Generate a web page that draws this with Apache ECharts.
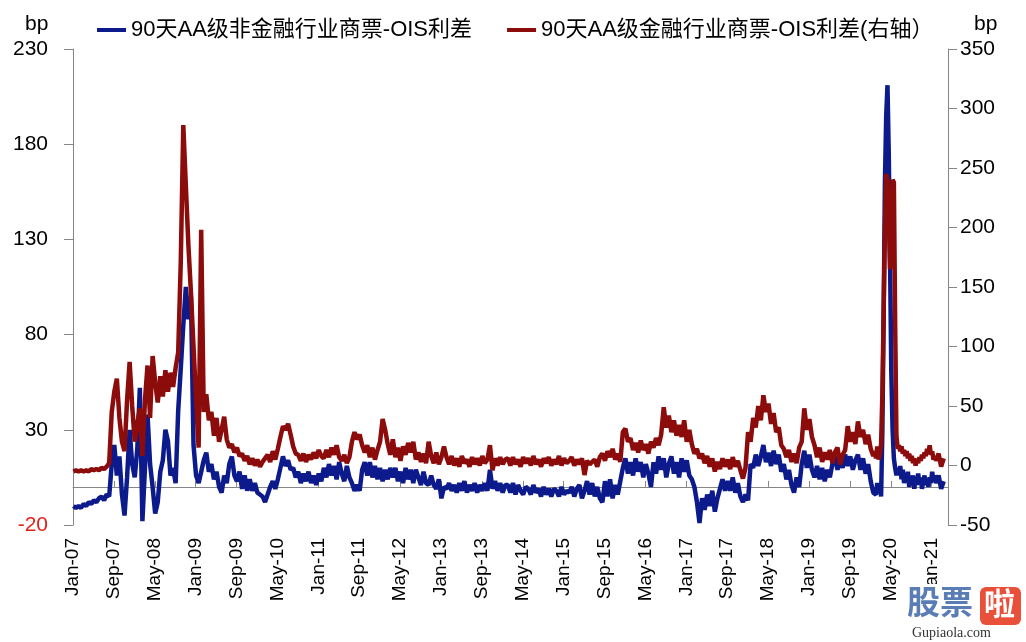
<!DOCTYPE html>
<html>
<head>
<meta charset="utf-8">
<script src="https://cdn.jsdelivr.net/npm/echarts@6/dist/echarts.min.js"></script>
<style>
html,body{margin:0;padding:0;background:#ffffff;}
#chart{width:1026px;height:642px;}
</style>
</head>
<body>
<div id="chart"></div>
<script>
// ---------------- DATA ----------------
const seriesNames = ['90天AA级非金融行业商票-OIS利差', '90天AA级金融行业商票-OIS利差(右轴）'];
const monthAbbr = ['Jan','Feb','Mar','Apr','May','Jun','Jul','Aug','Sep','Oct','Nov','Dec'];
// tick positions, months since Jan-2007 (every 8 months)
const tickMonths = [0,8,16,24,32,40,48,56,64,72,80,88,96,104,112,120,128,136,144,152,160,168];
const axisMaxMonth = 171.2;

// Half-month readings (step 0.5 month), first reading at month 0.08 (early Jan 2007).
// Left axis (bp): non-financial CP - OIS
const blueP1 = [-10,-11,-10,-11,-9,-10,-8,-9,-7,-8,-6,-5,-7,-4,-5,12,22,6,16,-4,-15,5,30,12,5,20];
const blueP2 = [52,-18,10,38,12,0,-14,-8,8,14,30,24,6,10,2,40,62,85,105,88,100,22,6,2];
const blueP3 = [8,14,18,8,12,4,8,0,-3,6,2,12,16,6,3,8,-1,6,-2,4,-2,2,-3,-4];
const blueP4 = [-5,-8,-4,0,3,-1,4,10,16,11,14,9,10,5,8,2,7,3,8,2,6,1,7,3];
const blueP5 = [10,5,12,6,11,4,13,7,3,11,5,2,-2,1,-2,9,13,6,13,5,11,4,10,3];
const blueP6 = [9,4,10,5,10,3,8,2,10,4,9,2,9,5,1,8,2,1,6,1,-1,4,-6,0];
const blueP7 = [-1,2,-2,1,-3,2,-2,3,-3,1,-2,2,-3,1,-2,2,-2,9,-1,3,-2,2,-3,1];
const blueP8 = [1,-3,2,-4,1,-2,-4,0,-1,-4,1,-3,-1,-5,0,-4,-1,-5,-1,-2,-5,0,-4,-2];
const blueP9 = [-3,0,-5,-1,1,-6,-2,3,-4,2,-5,0,-6,-8,3,-5,4,-6,1,-4,3,10,15,7];
const blueP10 = [13,6,15,8,13,5,12,7,0,13,7,16,9,15,5,12,16,7,13,5,15,8,14,6];
const blueP11 = [4,0,-8,-19,-6,-12,-4,-10,-2,-13,-6,-1,4,-2,3,-2,5,-3,2,-5,-8,-4,-7,12];
const blueP12 = [10,17,11,16,22,13,18,11,19,12,17,8,12,4,9,1,-3,5,0,12,19,10,17,9];
const blueP13 = [5,11,4,10,3,9,5,12,16,9,15,10,17,11,16,9,14,17,9,15,7,12,3,-3];
// Right axis (bp): financial CP - OIS
const redP1 = [-5,-4,-5,-4,-5,-4,-5,-3,-4,-3,-4,-2,-3,-1,2,45,62,73,40,20,12,55,87,50,20,35];
const redP2 = [48,8,55,84,40,92,70,53,75,58,80,62,78,66,82,95,170,286,235,185,145,100,55,15];
const redP3 = [198,45,60,38,45,25,40,20,30,41,22,15,18,11,15,8,10,4,8,1,6,0,5,-1];
const redP4 = [3,6,9,3,12,5,14,24,33,30,35,26,16,10,9,4,10,3,9,5,11,6,13,8];
const redP5 = [6,13,7,15,9,17,7,4,9,2,7,20,28,22,26,17,11,17,7,15,5,13,20,39];
const redP6 = [30,18,9,22,7,15,4,16,9,19,11,20,5,11,3,10,2,20,8,2,11,1,7,16];
const redP7 = [7,1,8,0,6,-1,8,2,5,-1,7,1,6,0,8,2,5,17,-4,6,0,7,1,5];
const redP8 = [6,0,7,1,5,-1,7,2,6,0,8,1,5,-1,6,2,7,0,5,1,8,0,6,2];
const redP9 = [4,7,0,5,1,6,-8,4,1,3,5,-1,7,10,4,12,7,14,5,10,3,28,31,20];
const redP10 = [23,13,19,11,21,13,18,10,20,15,23,17,26,49,32,42,28,38,25,34,24,38,20,30];
const redP11 = [18,10,14,6,10,2,8,-1,6,-5,3,-3,6,-1,5,-3,7,-1,4,-4,-11,-2,28,20];
const redP12 = [40,32,50,38,59,45,52,35,44,28,32,17,14,7,13,3,10,2,15,20,48,30,39,24];
const redP13 = [17,7,15,3,11,5,13,2,11,15,1,9,13,33,20,28,18,37,24,30,18,26,14,8];
const halfStart = 0.08;

// Weekly readings (step 0.25 month) around the 2020 spike, starting month 156.86
const blueW = [-2,-4,2,-3,0,-5,30,90,160,195,211,175,120,60,30,15,10,6,10,6,11,4,9,2,7,3,8,0,5,2,6,-1,4,1,7,2,5,-1,3,6,1,4,0,5,2,8,3,6];
const redW = [12,6,16,5,10,18,60,130,200,245,240,210,165,200,240,238,120,25,14,17,12,16,10,13,8,12,6,10,4,8,2,6,0,5,2,7,4,9,6,11,8,14,10,17,9,12,5,8];
const weeklyStart = 156.86;

// Final half-month readings, 2021, starting month 168.86
const blueT = [2,6,-1,3];
const redT = [4,10,-1,6];
const tailStart = 168.86;

// ---------------- BUILD ----------------
function pairs(start, step, vals) {
  return vals.map((v, i) => [start + i * step, v]);
}
const blueHalf = [].concat(blueP1,blueP2,blueP3,blueP4,blueP5,blueP6,blueP7,blueP8,blueP9,blueP10,blueP11,blueP12,blueP13);
const redHalf = [].concat(redP1,redP2,redP3,redP4,redP5,redP6,redP7,redP8,redP9,redP10,redP11,redP12,redP13);
const blueData = pairs(halfStart, 0.5, blueHalf).concat(pairs(weeklyStart, 0.25, blueW), pairs(tailStart, 0.5, blueT));
const redData = pairs(halfStart, 0.5, redHalf).concat(pairs(weeklyStart, 0.25, redW), pairs(tailStart, 0.5, redT));

function monthLabel(m) {
  const r = Math.round(m);
  if (Math.abs(m - r) > 1e-6 || r % 8 !== 0) return '';
  const yy = 7 + Math.floor(r / 12);
  return monthAbbr[r % 12] + '-' + (yy < 10 ? '0' + yy : '' + yy);
}

const FONT = "'Liberation Sans', Arial, 'Noto Sans CJK SC', sans-serif";
const AXIS_GRAY = '#868686';
const BLUE = '#0d1a8c';
const RED = '#8c0b0b';

const chart = echarts.init(document.getElementById('chart'), null, {renderer: 'canvas'});
chart.setOption({
  animation: false,
  backgroundColor: '#ffffff',
  grid: {left: 73, right: 78, top: 49, bottom: 117, containLabel: false},
  legend: {
    data: seriesNames,
    left: 92, top: 14,
    icon: 'rect', itemWidth: 29, itemHeight: 4, itemGap: 35,
    textStyle: {fontSize: 22, fontFamily: FONT, color: '#000'}
  },
  xAxis: [
    {
      type: 'value', min: 0, max: axisMaxMonth, interval: 8, position: 'bottom',
      axisLine: {show: false, onZero: false},
      axisTick: {show: false},
      splitLine: {show: false},
      axisLabel: {
        rotate: 90, fontSize: 19, fontFamily: FONT, color: '#000', margin: 13,
        customValues: tickMonths, formatter: monthLabel, showMinLabel: true, showMaxLabel: true,
        hideOverlap: false
      }
    },
    {
      type: 'value', min: 0, max: axisMaxMonth, interval: 8, position: 'bottom',
      axisLine: {show: true, onZero: true, onZeroAxisIndex: 0, lineStyle: {color: AXIS_GRAY, width: 1}},
      axisTick: {show: true, inside: true, length: 6, customValues: tickMonths, lineStyle: {color: AXIS_GRAY}},
      axisLabel: {show: false},
      splitLine: {show: false}
    }
  ],
  yAxis: [
    {
      type: 'value', position: 'left', min: -20, max: 230, interval: 50,
      axisLine: {show: true, onZero: false, lineStyle: {color: AXIS_GRAY, width: 1}},
      axisTick: {show: true, length: 9, lineStyle: {color: AXIS_GRAY}},
      splitLine: {show: false},
      axisLabel: {
        fontSize: 21, fontFamily: FONT, margin: 25,
        color: function (v) { return Number(v) === -20 ? '#e2231a' : '#000'; }
      }
    },
    {
      type: 'value', position: 'right', min: -50, max: 350, interval: 50,
      axisLine: {show: true, onZero: false, lineStyle: {color: AXIS_GRAY, width: 1}},
      axisTick: {show: true, length: 9, lineStyle: {color: AXIS_GRAY}},
      splitLine: {show: false},
      axisLabel: {fontSize: 21, fontFamily: FONT, color: '#000', margin: 12}
    }
  ],
  series: [
    {
      name: seriesNames[0], type: 'line', xAxisIndex: 0, yAxisIndex: 0,
      data: blueData, showSymbol: false, symbol: 'none',
      lineStyle: {color: BLUE, width: 4.5}, itemStyle: {color: BLUE}, z: 2
    },
    {
      name: seriesNames[1], type: 'line', xAxisIndex: 0, yAxisIndex: 1,
      data: redData, showSymbol: false, symbol: 'none',
      lineStyle: {color: RED, width: 4.5}, itemStyle: {color: RED}, z: 3
    }
  ],
  graphic: [
    {type: 'text', left: 25, top: 14, style: {text: 'bp', font: "21px 'Liberation Sans', Arial, sans-serif", fill: '#000'}},
    {type: 'text', left: 974, top: 14, style: {text: 'bp', font: "21px 'Liberation Sans', Arial, sans-serif", fill: '#000'}},
    {type: 'rect', left: 905, top: 584, z: 100, shape: {width: 121, height: 58}, style: {fill: '#ffffff'}},
    {type: 'text', left: 907, top: 585, z: 101, style: {text: '股票', font: "bold 33px 'Noto Sans CJK SC', sans-serif", fill: '#5a7db6'}},
    {type: 'rect', left: 980, top: 587, z: 101, shape: {width: 41, height: 38, r: 6}, style: {fill: '#e8503a'}},
    {type: 'text', left: 984, top: 588, z: 102, style: {text: '啦', font: "bold 31px 'Noto Sans CJK SC', sans-serif", fill: '#ffffff'}},
    {type: 'text', left: 912, top: 626, z: 101, style: {text: 'Gupiaola.com', font: "14px 'Liberation Serif', 'DejaVu Serif', serif", fill: '#333333'}}
  ]
});
</script>
</body>
</html>
